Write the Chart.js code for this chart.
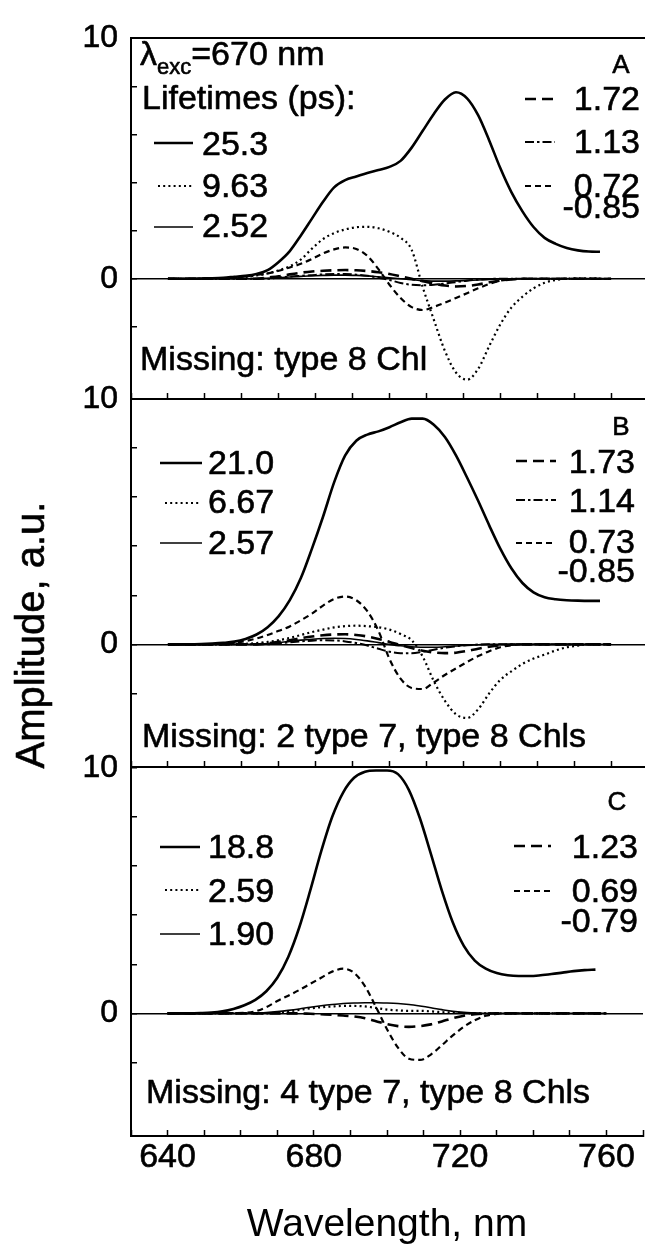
<!DOCTYPE html>
<html>
<head>
<meta charset="utf-8">
<script src="https://cdn.jsdelivr.net/npm/chart.js@4.4.1/dist/chart.umd.min.js"></script>
<style>
  html, body { margin: 0; padding: 0; background: #fff; }
  #fig { position: relative; width: 645px; height: 1245px; overflow: hidden; background: #fff; }
  #fig canvas { position: absolute; left: 0; top: 0; }
</style>
</head>
<body>
<div id="fig">
  <canvas id="panel-a" width="650" height="1245"></canvas>
  <canvas id="panel-b" width="650" height="1245"></canvas>
  <canvas id="panel-c" width="650" height="1245"></canvas>
</div>
<script>
// wavelength grid (nm) shared by every curve
const wavelengths = [640, 643, 646, 649, 652, 655, 658, 661, 664, 667, 670, 673, 676, 679, 682, 685, 688, 691, 694, 697, 700, 703, 706, 709, 712, 715, 718, 721, 724, 727, 730, 733, 736, 739, 742, 745, 748, 751, 754, 757, 760];

const xTickLabels = [640, 680, 720, 760];
const yTickLabels = [0, 10];

// panel A: missing type 8 Chl
const a253 = [0, 0, 0, 0.01, 0.02, 0.04, 0.08, 0.12, 0.2, 0.36, 0.7, 1.15, 1.8, 2.5, 3.2, 3.8, 4.1, 4.25, 4.4, 4.52, 4.65, 4.9, 5.45, 6.15, 6.85, 7.45, 7.75, 7.5, 6.8, 5.75, 4.6, 3.6, 2.8, 2.15, 1.7, 1.45, 1.28, 1.18, 1.13, 1.12, null];
const a963 = [0, 0, 0, 0, 0, 0.01, 0.03, 0.07, 0.14, 0.22, 0.35, 0.52, 0.8, 1.25, 1.65, 1.9, 2.05, 2.14, 2.16, 2.1, 1.95, 1.7, 1.2, -0.35, -1.7, -3.0, -3.9, -4.2, -3.75, -2.8, -1.9, -1.2, -0.75, -0.4, -0.17, -0.05, 0, 0.02, 0.02, 0.02, null];
const a252 = [0, 0, 0, 0, 0, 0, 0, 0, 0.01, 0.02, 0.04, 0.07, 0.1, 0.12, 0.14, 0.15, 0.15, 0.14, 0.12, 0.08, 0.04, 0, -0.04, -0.08, -0.1, -0.1, -0.09, -0.07, -0.05, -0.03, -0.01, 0, 0, 0, 0, 0, 0, 0, 0, 0, 0];
const a172 = [0, 0, 0, 0, 0, 0, 0, 0, 0, 0.05, 0.1, 0.18, 0.25, 0.3, 0.33, 0.35, 0.36, 0.35, 0.32, 0.27, 0.2, 0.1, 0, -0.1, -0.2, -0.28, -0.32, -0.3, -0.24, -0.15, -0.08, -0.03, 0, 0, 0, 0, 0, 0, 0, 0, 0];
const a113 = [0, 0, 0, 0, 0, 0, 0, 0, 0, 0, 0.05, 0.09, 0.12, 0.15, 0.18, 0.2, 0.2, 0.17, 0.12, 0.04, -0.05, -0.18, -0.25, -0.27, -0.25, -0.2, -0.14, -0.08, -0.04, -0.01, 0, 0, 0, 0, 0, 0, 0, 0, 0, 0, 0];
const a072 = [0, 0, 0, 0, 0.01, 0.02, 0.05, 0.1, 0.16, 0.22, 0.33, 0.47, 0.62, 0.82, 1.05, 1.22, 1.3, 1.24, 0.95, 0.4, -0.25, -0.8, -1.18, -1.3, -1.17, -1.0, -0.8, -0.6, -0.4, -0.22, -0.08, -0.02, 0, 0, 0, 0, 0, 0, 0, 0, 0];

// panel B: missing 2 type 7, type 8 Chls
const b210 = [0, 0, 0, 0.01, 0.03, 0.06, 0.11, 0.22, 0.4, 0.7, 1.15, 1.8, 2.7, 3.9, 5.2, 6.6, 7.7, 8.3, 8.55, 8.68, 8.85, 9.05, 9.2, 9.2, 8.95, 8.45, 7.7, 6.8, 5.85, 4.85, 3.9, 3.1, 2.5, 2.12, 1.92, 1.84, 1.8, 1.78, 1.77, 1.77, null];
const b667 = [0, 0, 0, 0, 0, 0, 0, 0.02, 0.05, 0.1, 0.17, 0.26, 0.38, 0.5, 0.6, 0.69, 0.74, 0.76, 0.74, 0.7, 0.6, 0.42, 0.17, -0.5, -1.5, -2.3, -2.85, -3.0, -2.65, -2.0, -1.45, -1.1, -0.8, -0.58, -0.42, -0.25, -0.12, -0.05, 0, 0, 0];
const b257 = [0, 0, 0, 0, 0, 0, 0, 0, 0, 0.03, 0.07, 0.12, 0.17, 0.21, 0.24, 0.25, 0.24, 0.2, 0.14, 0.07, 0, -0.06, -0.1, -0.12, -0.12, -0.1, -0.07, -0.04, -0.02, 0, 0, 0, 0, 0, 0, 0, 0, 0, 0, 0, 0];
const b173 = [0, 0, 0, 0, 0, 0, 0, 0, 0, 0.04, 0.1, 0.17, 0.25, 0.32, 0.37, 0.4, 0.41, 0.38, 0.32, 0.22, 0.1, -0.03, -0.15, -0.26, -0.33, -0.36, -0.34, -0.27, -0.18, -0.1, -0.04, -0.01, 0, 0, 0, 0, 0, 0, 0, 0, 0];
const b114 = [0, 0, 0, 0, 0, 0, 0, 0, 0, 0, 0.04, 0.08, 0.12, 0.15, 0.17, 0.16, 0.12, 0.05, -0.05, -0.18, -0.3, -0.36, -0.36, -0.3, -0.22, -0.14, -0.08, -0.04, -0.01, 0, 0, 0, 0, 0, 0, 0, 0, 0, 0, 0, 0];
const b073 = [0, 0, 0, 0, 0, 0.02, 0.06, 0.13, 0.24, 0.38, 0.55, 0.73, 0.98, 1.25, 1.58, 1.85, 1.95, 1.8, 1.35, 0.55, -0.6, -1.4, -1.78, -1.82, -1.55, -1.25, -0.98, -0.72, -0.48, -0.28, -0.12, -0.04, 0, 0, 0, 0, 0, 0, 0, 0, 0];

// panel C: missing 4 type 7, type 8 Chls
const c188 = [0, 0, 0, 0.01, 0.03, 0.08, 0.18, 0.33, 0.55, 0.9, 1.45, 2.3, 3.5, 5.0, 6.6, 8.0, 9.0, 9.6, 9.85, 9.9, 9.9, 9.75, 9.1, 7.95, 6.5, 5.0, 3.7, 2.75, 2.15, 1.82, 1.64, 1.55, 1.52, 1.52, 1.55, 1.6, 1.66, 1.72, 1.76, 1.78, null];
const c259 = [0, 0, 0, 0, 0, 0, 0, 0, 0, 0, 0.03, 0.08, 0.14, 0.2, 0.25, 0.28, 0.3, 0.3, 0.28, 0.22, 0.15, 0.12, 0.1, 0.1, 0.08, 0.05, 0.03, 0.01, 0, 0, 0, 0, 0, 0, 0, 0, 0, 0, 0, 0, 0];
const c190 = [0, 0, 0, 0, 0, 0, 0, 0, 0, 0.03, 0.07, 0.12, 0.18, 0.25, 0.31, 0.36, 0.4, 0.42, 0.43, 0.43, 0.42, 0.4, 0.36, 0.3, 0.23, 0.15, 0.08, 0.04, 0.02, 0, 0, 0, 0, 0, 0, 0, 0, 0, 0, 0, 0];
const c123 = [0, 0, 0, 0, 0, 0, 0, 0, 0, 0, 0, 0, 0, -0.02, -0.04, -0.06, -0.09, -0.13, -0.2, -0.32, -0.44, -0.52, -0.55, -0.52, -0.45, -0.33, -0.2, -0.1, -0.04, -0.01, 0, 0, 0, 0, 0, 0, 0, 0, 0, 0, 0];
const c069 = [0, 0, 0, 0, 0, 0, 0.01, 0.02, 0.08, 0.25, 0.5, 0.72, 0.95, 1.2, 1.45, 1.7, 1.82, 1.65, 1.1, 0.25, -0.65, -1.4, -1.85, -1.9, -1.68, -1.3, -0.9, -0.55, -0.28, -0.1, -0.02, 0, 0, 0, 0, 0, 0, 0, 0, 0, 0];

const FONT = "'Liberation Sans', Arial, Helvetica, sans-serif";
const TEXT_STROKE = 0.6; // the scanned lettering is a bit heavier than plain regular
Chart.defaults.font.family = FONT;
Chart.defaults.color = '#000';

const lineStyles = {
  main: { borderWidth: 2.6, borderDash: [] },
  dotted: { borderWidth: 2.2, borderDash: [2, 3.2] },
  thin: { borderWidth: 1.6, borderDash: [] },
  longDash: { borderWidth: 2.6, borderDash: [11, 6] },
  dashDot: { borderWidth: 2, borderDash: [9, 3, 2.5, 3] },
  shortDash: { borderWidth: 2.2, borderDash: [6, 4] },
};

function series(values, style) {
  return {
    data: wavelengths.map((x, i) => ({ x, y: values[i] })),
    borderColor: '#000',
    borderWidth: style.borderWidth,
    borderDash: style.borderDash,
    borderCapStyle: 'butt',
    pointRadius: 0,
    cubicInterpolationMode: 'monotone',
    spanGaps: false,
    xAxisID: 'x',
    yAxisID: 'y',
  };
}

// draws the panel texts and the little legend line samples
const panelText = {
  id: 'panelText',
  afterDraw(chart, args, opts) {
    const { ctx } = chart;
    ctx.save();
    ctx.strokeStyle = '#000';
    (opts.samples || []).forEach((s) => {
      const ds = chart.data.datasets[s.ds];
      ctx.beginPath();
      ctx.setLineDash(ds.borderDash || []);
      ctx.lineWidth = ds.borderWidth;
      ctx.moveTo(s.x0, s.y);
      ctx.lineTo(s.x1, s.y);
      ctx.stroke();
    });
    ctx.setLineDash([]);
    ctx.fillStyle = '#000';
    ctx.lineWidth = TEXT_STROKE;
    ctx.lineJoin = 'round';
    const put = (text, x, y) => {
      ctx.fillText(text, x, y);
      ctx.strokeText(text, x, y);
    };
    (opts.labels || []).forEach((t) => {
      ctx.save();
      ctx.textBaseline = t.baseline || 'alphabetic';
      if (t.rotate) {
        ctx.translate(t.x, t.y);
        ctx.rotate(t.rotate);
        ctx.font = `${t.size}px ${FONT}`;
        ctx.textAlign = 'center';
        put(t.text, 0, 0);
      } else if (t.parts) {
        let x = t.x;
        t.parts.forEach((p) => {
          ctx.font = `${p.size}px ${FONT}`;
          ctx.textAlign = 'left';
          put(p.text, x, t.y + (p.dy || 0));
          x += ctx.measureText(p.text).width;
        });
      } else {
        ctx.font = `${t.size || 34}px ${FONT}`;
        ctx.textAlign = t.align || 'left';
        put(t.text, t.x, t.y);
      }
      ctx.restore();
    });
    ctx.restore();
  },
};

function makePanel(id, datasets, cfg) {
  const scales = {
    x: {
      type: 'linear',
      position: 'bottom',
      min: 630,
      max: 770,
      afterFit: (s) => { s.height = cfg.xHeight; },
      border: { color: '#000', width: 2 },
      grid: {
        drawOnChartArea: false,
        drawTicks: true,
        tickLength: -6,
        tickColor: '#000',
        tickWidth: 1.5,
      },
      ticks: {
        display: cfg.showXLabels,
        stepSize: 10,
        autoSkip: false,
        maxRotation: 0,
        minRotation: 0,
        padding: 7,
        font: { size: 34 },
        textStrokeColor: '#000',
        textStrokeWidth: TEXT_STROKE,
        callback: (v) => (xTickLabels.includes(v) ? String(v) : ''),
      },
      title: {
        display: cfg.showXLabels,
        text: 'Wavelength, nm',
        font: { size: 39, lineHeight: 1 },
        padding: { top: 0, bottom: 0 },
      },
    },
    y: {
      min: -5,
      max: 10,
      afterFit: (s) => { s.width = 131; },
      border: { color: '#000', width: 2 },
      grid: {
        color: (c) => (c.tick && c.tick.value === 0 ? '#000' : 'rgba(0,0,0,0)'),
        lineWidth: 1.5,
        drawTicks: true,
        tickLength: -6,
        tickColor: '#000',
        tickWidth: 1.5,
      },
      ticks: {
        stepSize: 2,
        padding: 19,
        font: { size: 32 },
        textStrokeColor: '#000',
        textStrokeWidth: TEXT_STROKE,
        callback: (v) => (yTickLabels.includes(v) ? String(v) : ''),
      },
    },
  };
  if (cfg.topBorder) {
    scales.xTop = {
      type: 'linear',
      position: 'top',
      min: 630,
      max: 770,
      afterFit: (s) => { s.height = 0; },
      border: { color: '#000', width: 2 },
      grid: { display: false, drawTicks: false },
      ticks: { display: false },
    };
  }
  return new Chart(document.getElementById(id), {
    type: 'line',
    data: { datasets },
    options: {
      responsive: false,
      animation: false,
      layout: { padding: { top: cfg.top, bottom: cfg.bottom, left: 0, right: 2 } },
      plugins: {
        legend: { display: false },
        tooltip: { enabled: false },
        panelText: { samples: cfg.samples, labels: cfg.labels },
      },
      scales,
    },
    plugins: [panelText],
  });
}

makePanel('panel-a', [
  series(a253, lineStyles.main),
  series(a963, lineStyles.dotted),
  series(a252, lineStyles.thin),
  series(a172, lineStyles.longDash),
  series(a113, lineStyles.dashDot),
  series(a072, lineStyles.shortDash),
], {
  top: 31, bottom: 846, xHeight: 0, showXLabels: false, topBorder: true,
  samples: [
    { ds: 0, x0: 154, x1: 193, y: 143 },
    { ds: 1, x0: 158, x1: 193, y: 186 },
    { ds: 2, x0: 154, x1: 193, y: 227 },
    { ds: 3, x0: 525, x1: 555, y: 99 },
    { ds: 4, x0: 525, x1: 555, y: 142 },
    { ds: 5, x0: 525, x1: 555, y: 186 },
  ],
  labels: [
    { x: 140, y: 65, parts: [{ text: 'λ', size: 34 }, { text: 'exc', size: 22, dy: 9 }, { text: '=670 nm', size: 34 }] },
    { text: 'Lifetimes (ps):', x: 142, y: 109 },
    { text: '25.3', x: 202, y: 155 },
    { text: '9.63', x: 202, y: 197 },
    { text: '2.52', x: 202, y: 237 },
    { text: 'A', x: 621, y: 73, size: 26, align: 'center' },
    { text: '1.72', x: 640, y: 110, align: 'right' },
    { text: '1.13', x: 640, y: 153, align: 'right' },
    { text: '0.72', x: 640, y: 197, align: 'right' },
    { text: '-0.85', x: 640, y: 218, align: 'right' },
    { text: 'Missing: type 8 Chl', x: 140, y: 370 },
  ],
});

makePanel('panel-b', [
  series(b210, lineStyles.main),
  series(b667, lineStyles.dotted),
  series(b257, lineStyles.thin),
  series(b173, lineStyles.longDash),
  series(b114, lineStyles.dashDot),
  series(b073, lineStyles.shortDash),
], {
  top: 399, bottom: 478, xHeight: 0, showXLabels: false, topBorder: false,
  samples: [
    { ds: 0, x0: 160, x1: 202, y: 463 },
    { ds: 1, x0: 165, x1: 200, y: 503 },
    { ds: 2, x0: 160, x1: 202, y: 543 },
    { ds: 3, x0: 516, x1: 556, y: 461 },
    { ds: 4, x0: 516, x1: 556, y: 500 },
    { ds: 5, x0: 516, x1: 556, y: 543 },
  ],
  labels: [
    { text: 'B', x: 621, y: 435, size: 26, align: 'center' },
    { text: '21.0', x: 208, y: 474 },
    { text: '6.67', x: 208, y: 513 },
    { text: '2.57', x: 208, y: 554 },
    { text: '1.73', x: 635, y: 473, align: 'right' },
    { text: '1.14', x: 635, y: 512, align: 'right' },
    { text: '0.73', x: 635, y: 553, align: 'right' },
    { text: '-0.85', x: 635, y: 582, align: 'right' },
    { text: 'Missing: 2 type 7, type 8 Chls', x: 142, y: 747 },
    { text: 'Amplitude, a.u.', x: 33, y: 635, size: 40, rotate: -Math.PI / 2, baseline: 'middle' },
  ],
});

makePanel('panel-c', [
  series(c188, lineStyles.main),
  series(c259, lineStyles.dotted),
  series(c190, lineStyles.thin),
  series(c123, lineStyles.longDash),
  series(c069, lineStyles.shortDash),
], {
  top: 768, bottom: 0, xHeight: 109, showXLabels: true, topBorder: false,
  samples: [
    { ds: 0, x0: 160, x1: 200, y: 847 },
    { ds: 1, x0: 165, x1: 200, y: 890 },
    { ds: 2, x0: 160, x1: 200, y: 934 },
    { ds: 3, x0: 514, x1: 551, y: 846 },
    { ds: 4, x0: 514, x1: 551, y: 891 },
  ],
  labels: [
    { text: 'C', x: 617, y: 810, size: 26, align: 'center' },
    { text: '18.8', x: 208, y: 858 },
    { text: '2.59', x: 208, y: 902 },
    { text: '1.90', x: 208, y: 945 },
    { text: '1.23', x: 638, y: 858, align: 'right' },
    { text: '0.69', x: 638, y: 902, align: 'right' },
    { text: '-0.79', x: 638, y: 932, align: 'right' },
    { text: 'Missing: 4 type 7, type 8 Chls', x: 146, y: 1103 },
  ],
});
</script>
</body>
</html>
